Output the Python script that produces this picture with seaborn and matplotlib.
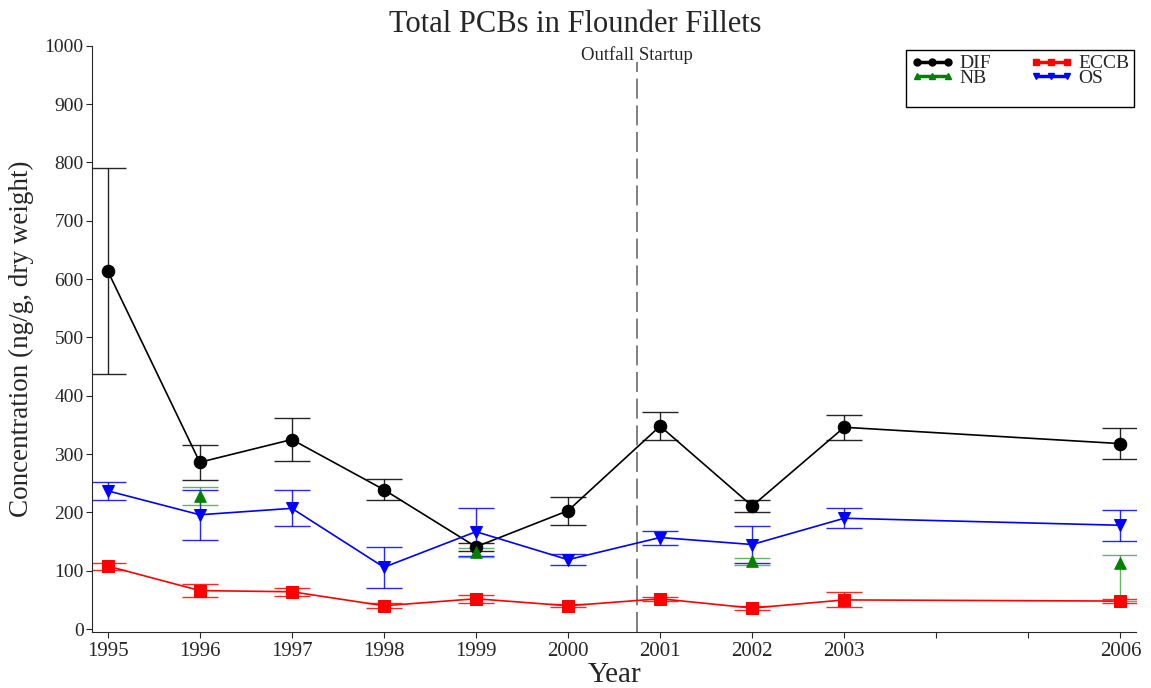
import pandas as pd
import matplotlib
matplotlib.use("Agg")
import matplotlib.pyplot as plt
import seaborn as sns
from matplotlib.lines import Line2D

# Estilo general
sns.set_style("ticks")
plt.rcParams["font.family"] = ["Liberation Serif", "DejaVu Serif"]

# Datos (ng/g, peso seco)
years = [1995, 1996, 1997, 1998, 1999, 2000, 2001, 2002, 2003, 2006]
dif = [614, 286, 325, 239, 141, 203, 348, 211, 346, 318]
dif_err = [176, 30, 37, 18, 7, 24, 24, 10, 21, 26]
eccb = [108, 66, 64, 40, 52, 40, 52, 36, 50, 48]
eccb_err = [6, 11, 7, 4, 7, 3, 3, 4, 13, 3]
os_vals = [237, 196, 207, 106, 167, 119, 157, 145, 190, 178]
os_err = [15, 43, 31, 35, 41, 9, 12, 31, 17, 27]
nb_years = [1996, 1999, 2002, 2006]
nb = [229, 133, 116, 114]
nb_err_low = [16, 9, 6, 66]
nb_err_high = [15, 6, 6, 13]

outfall = 2000.75
xticks = [1995, 1996, 1997, 1998, 1999, 2000, 2001, 2002, 2003, 2004, 2005, 2006]
xlabels = ["1995", "1996", "1997", "1998", "1999", "2000", "2001", "2002", "2003", "", "", "2006"]

colors = {"DIF": "black", "ECCB": "red", "NB": "green", "OS": "blue"}
markers = {"DIF": "o", "ECCB": "s", "NB": "^", "OS": "v"}
msize = {"DIF": 9, "ECCB": 8, "NB": 8, "OS": 9}

df = pd.DataFrame({
    "Year": years * 3,
    "Conc": dif + eccb + os_vals,
    "Err": dif_err + eccb_err + os_err,
    "Site": ["DIF"] * len(years) + ["ECCB"] * len(years) + ["OS"] * len(years),
})
df_nb = pd.DataFrame({"Year": nb_years, "Conc": nb, "Site": "NB"})

fig = plt.figure(figsize=(11.51, 6.88), dpi=100)
ax = fig.add_axes([0.080, 0.0814, 0.907, 0.852])

# Barras de error
for site in ["DIF", "OS", "ECCB"]:
    sub = df[df["Site"] == site]
    ax.errorbar(sub["Year"], sub["Conc"], yerr=sub["Err"], fmt="none",
                ecolor=colors[site], elinewidth=1.0, capsize=13, capthick=1.0,
                alpha=0.85, zorder=2)
ax.errorbar(nb_years, nb, yerr=[nb_err_low, nb_err_high], fmt="none",
            ecolor=colors["NB"], elinewidth=1.0, capsize=13, capthick=1.0,
            alpha=0.6, zorder=2)

# Lineas y marcadores
for site in ["DIF", "OS", "ECCB"]:
    sub = df[df["Site"] == site]
    sns.lineplot(data=sub, x="Year", y="Conc", color=colors[site],
                 marker=markers[site], markersize=msize[site],
                 markeredgecolor=colors[site], linewidth=1.2, ax=ax, zorder=3)
sns.scatterplot(data=df_nb, x="Year", y="Conc", color=colors["NB"],
                marker=markers["NB"], s=70, edgecolor=colors["NB"], ax=ax, zorder=3)

# Linea de arranque del emisario
ax.axvline(outfall, ymin=0, ymax=0.972, color="dimgray",
           linestyle=(0, (12, 4)), linewidth=1.2, zorder=1)
ax.text(outfall, 984, "Outfall Startup", ha="center", va="center", fontsize=13.5)

ax.set_xlim(1994.83, 2006.17)
ax.set_ylim(-5, 1000)
ax.set_xticks(xticks)
ax.set_xticklabels(xlabels, fontsize=15)
ax.set_yticks(range(0, 1001, 100))
ax.tick_params(axis="y", labelsize=14, length=4, pad=2)
ax.tick_params(axis="x", length=4, pad=3)
ax.set_xlabel("Year", fontsize=21, labelpad=1)
ax.set_ylabel("Concentration (ng/g, dry weight)", fontsize=19.5, labelpad=8)
fig.suptitle("Total PCBs in Flounder Fillets", fontsize=22, x=0.5, y=0.985, va="top")
sns.despine(ax=ax)

# Leyenda en dos columnas con una fila vacia al final
order = ["DIF", "NB", "", "ECCB", "OS", ""]
handles = []
for s in order:
    if s:
        handles.append(Line2D([0], [0], color=colors[s], marker=markers[s],
                              markersize=5, linewidth=2.5))
    else:
        handles.append(Line2D([0], [0], color="none"))
leg = ax.legend(handles, order, ncol=2, numpoints=3,
                loc="upper right", bbox_to_anchor=(0.9985, 0.993), fontsize=14,
                frameon=True, fancybox=False, edgecolor="black",
                handlelength=2.2, handletextpad=0.3, columnspacing=2.0,
                labelspacing=-0.15, borderpad=0.25, borderaxespad=0.0)
leg.get_frame().set_linewidth(1.0)
leg.get_frame().set_alpha(1.0)

fig.savefig("out.png", dpi=100)
